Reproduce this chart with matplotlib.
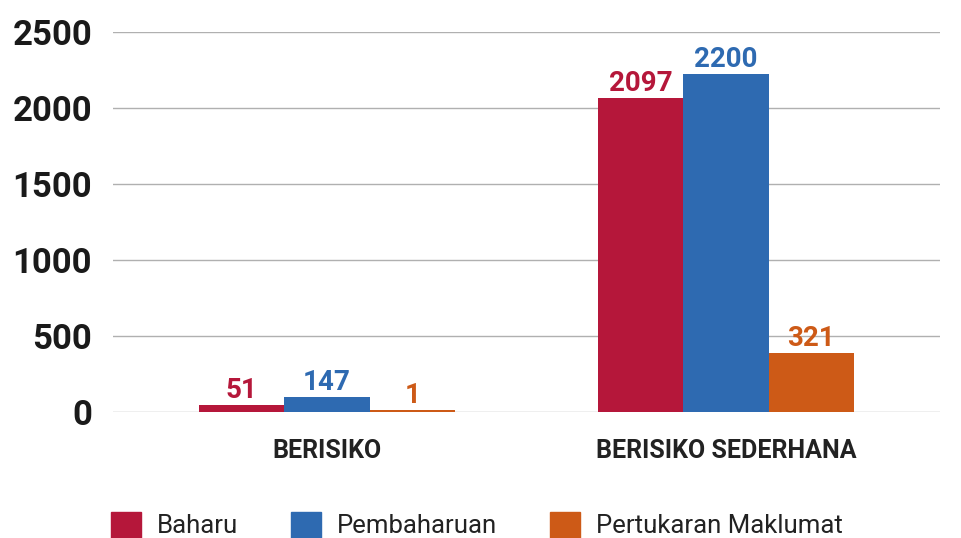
import numpy as np
import matplotlib.pyplot as plt
from matplotlib.patches import Patch

categories = ["BERISIKO", "BERISIKO SEDERHANA"]
series = ["Baharu", "Pembaharuan", "Pertukaran Maklumat"]
colors = ["#B5173A", "#2E6AB1", "#CD5A17"]

# bar heights as drawn, and the numbers printed above them
heights = {
    "Baharu": [48, 2070],
    "Pembaharuan": [101, 2228],
    "Pertukaran Maklumat": [13, 388],
}
labels = {
    "Baharu": [51, 2097],
    "Pembaharuan": [147, 2200],
    "Pertukaran Maklumat": [1, 321],
}
yticks = [0, 500, 1000, 1500, 2000, 2500]

plt.rcParams['font.family'] = ['Roboto', 'DejaVu Sans']

fig = plt.figure(figsize=(9.62, 5.38), dpi=100)
ax = fig.add_axes([113 / 962, 1 - 412.3 / 538, 827 / 962, 380 / 538])

x = np.arange(len(categories))
bw = 0.214
for i, name in enumerate(series):
    pos = x + (i - 1) * bw
    bars = ax.bar(pos, heights[name], width=bw, color=colors[i], zorder=3, label=name)
    for b, lab in zip(bars, labels[name]):
        ax.annotate(str(lab), (b.get_x() + b.get_width() / 2, b.get_height()),
                    xytext=(0, 5), textcoords="offset points",
                    ha="center", va="baseline", fontsize=20, fontweight="bold",
                    color=colors[i], zorder=4)

ax.set_xlim(-0.536, 1.536)
ax.set_ylim(0, 2500)
ax.set_yticks(yticks)
ax.set_yticklabels([str(t) for t in yticks], fontsize=25, fontweight="bold", color="#1a1a1a")
ax.set_xticks(x)
ax.set_xticklabels(categories, fontsize=18, fontweight="bold", color="#222222")
ax.tick_params(axis="y", length=0, pad=15)
ax.tick_params(axis="x", length=0, pad=19)
ax.grid(axis="y", color="#b0b0b0", linewidth=1, zorder=0)
for s in ax.spines.values():
    s.set_visible(False)

handles = [Patch(color=c, label=n) for c, n in zip(colors, series)]
fig.legend(handles=handles, loc="upper left", bbox_to_anchor=(111 / 962, 1 - 512 / 538),
           ncol=3, frameon=False, fontsize=18.5, handlelength=1.15, handleheight=1.15,
           handletextpad=0.62, columnspacing=2.08, borderpad=0, borderaxespad=0,
           labelcolor="#222222")

fig.savefig("out.png", dpi=100)
